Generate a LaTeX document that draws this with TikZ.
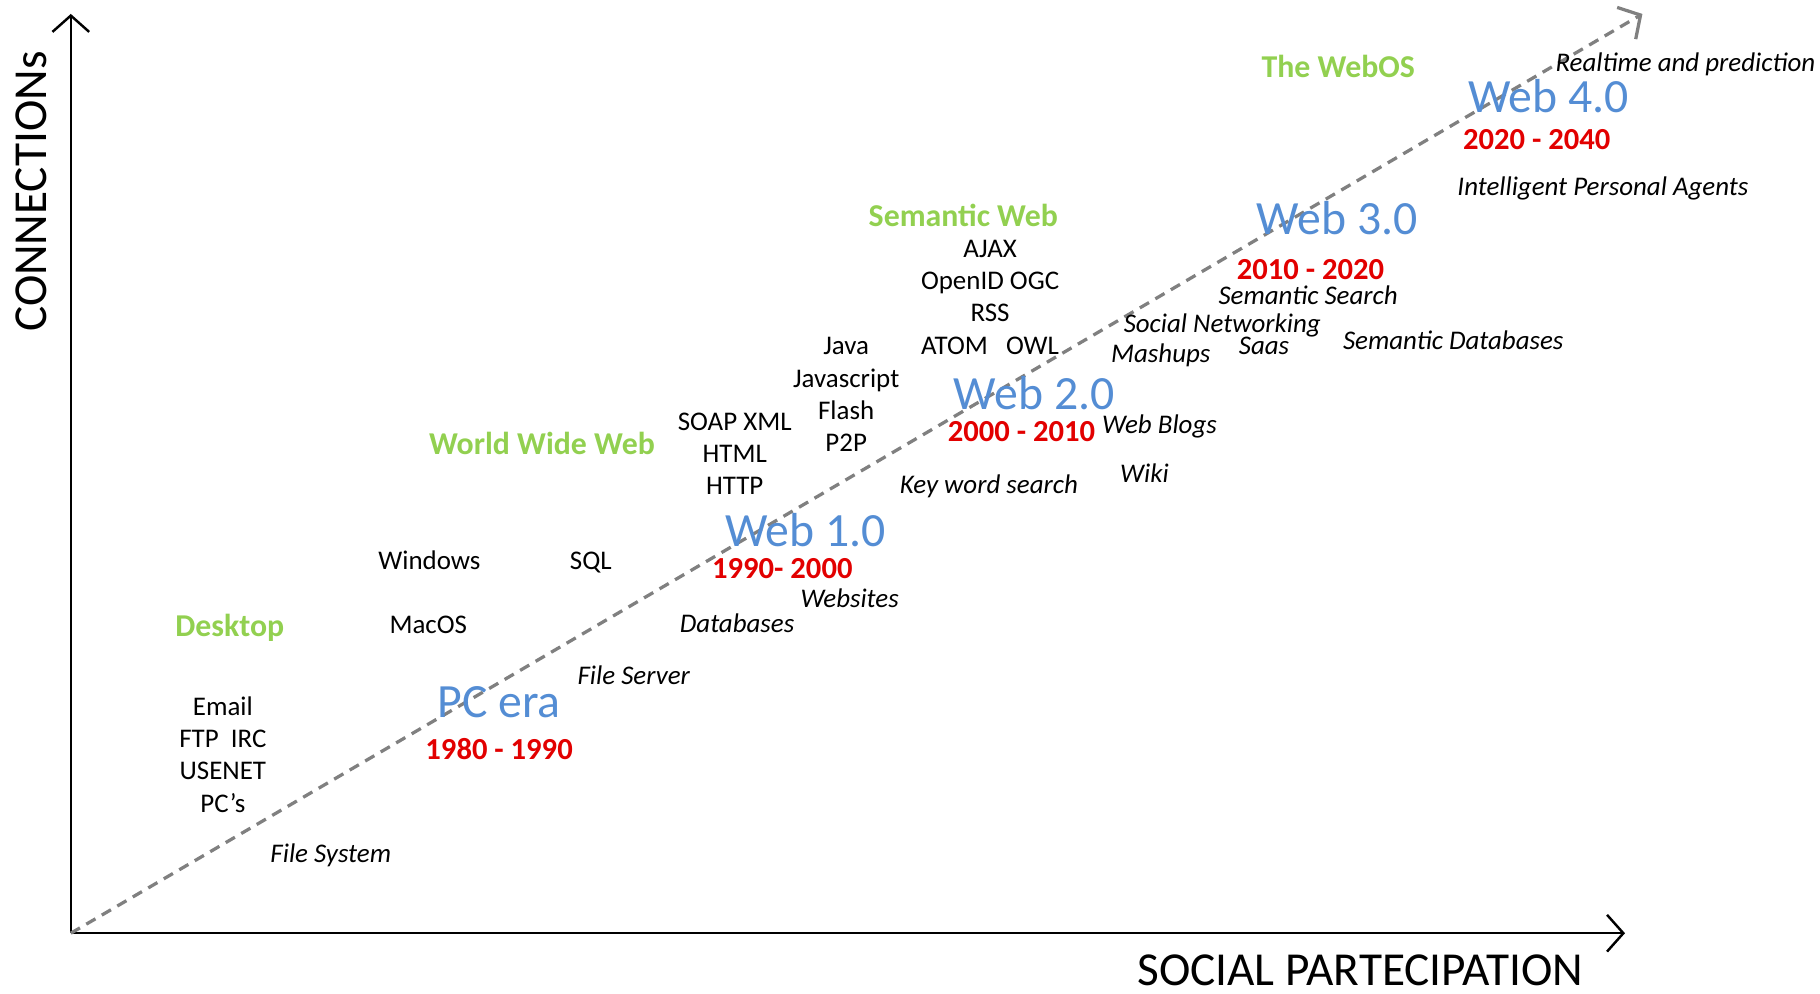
\documentclass[tikz,border=0pt]{standalone}
\usepackage{fontspec}
\setmainfont{Carlito}
\usepackage{xcolor}
\usetikzlibrary{arrows.meta}

\definecolor{stagegreen}{RGB}{146,208,80}
\definecolor{erablue}{RGB}{84,141,212}
\definecolor{yearred}{RGB}{226,0,0}
\definecolor{trendgray}{RGB}{128,128,128}

\begin{document}
\begin{tikzpicture}[x=0.1mm,y=-0.1mm,
        every node/.style={inner sep=0pt},
        axis/.style={line width=0.6pt, -{Straight Barb[length=4pt,width=9pt]}},
        trend/.style={trendgray, line width=0.8pt, dash pattern=on 2.6pt off 1.8pt,
            -{Straight Barb[length=4pt,width=9pt]}},
        axislabel/.style={font=\fontsize{11.6}{14}\selectfont},
        stage/.style={text=stagegreen, font=\fontsize{7.8}{9}\selectfont\bfseries},
        era/.style={text=erablue, font=\fontsize{11.7}{14}\selectfont},
        years/.style={text=yearred, font=\fontsize{7.5}{9}\selectfont\bfseries},
        tech/.style={align=center, font=\fontsize{6.6}{7.9}\selectfont},
        usage/.style={font=\fontsize{6.6}{7.9}\selectfont\itshape}]
        \useasboundingbox (0,0) rectangle (1568,856);

        \coordinate (O) at (61,804);
        \coordinate (Ytop) at (61,12);
        \coordinate (Xend) at (1400,804);
        \coordinate (Tend) at (1415,12);

        % axes and the trend line
        \draw[axis] (O) -- (Ytop);
        \draw[axis] (O) -- (Xend);
        \draw[trend] (O) -- (Tend);

        \node[axislabel, rotate=90] (connections) at (27,165) {CONNECTIONs};
        \node[axislabel] (social) at (1172,836) {SOCIAL PARTECIPATION};

        % stages
        \node[stage] (desktop) at (198,541) {Desktop};
        \node[stage] (www) at (467,382) {World Wide Web};
        \node[stage] (semweb) at (830,186) {Semantic Web};
        \node[stage] (webos) at (1153,57) {The WebOS};

        % eras and years
        \node[era] (pcera) at (430,605) {PC era};
        \node[years] (pcyears) at (430,645) {1980 - 1990};
        \node[era] (web1) at (694,457) {Web 1.0};
        \node[years] (web1years) at (674,490) {1990- 2000};
        \node[era] (web2) at (891,339) {Web 2.0};
        \node[years] (web2years) at (880,372) {2000 - 2010};
        \node[era] (web3) at (1152,188) {Web 3.0};
        \node[years] (web3years) at (1129,232) {2010 - 2020};
        \node[era] (web4) at (1334,83) {Web 4.0};
        \node[years] (web4years) at (1324,120) {2020 - 2040};

        % technologies
        \node[tech] (net) at (192,650) {Email\\FTP~~IRC\\USENET\\PC’s};
        \node[tech] (windows) at (370,483) {Windows};
        \node[tech] (macos) at (369,538) {MacOS};
        \node[tech] (sql) at (509,485) {SQL};
        \node[tech] (protocols) at (633,391) {SOAP XML\\HTML\\HTTP};
        \node[tech] (java) at (729,340) {Java\\Javascript\\Flash\\P2P};
        \node[tech] (ajax) at (853,256) {AJAX\\OpenID OGC\\RSS\\ATOM~~~OWL};

        % uses
        \node[usage] (filesystem) at (285,737) {File System};
        \node[usage] (fileserver) at (546,582) {File Server};
        \node[usage] (databases) at (635,537) {Databases};
        \node[usage] (websites) at (732,515) {Websites};
        \node[usage] (keyword) at (852,419) {Key word search};
        \node[usage] (wiki) at (986,408) {Wiki};
        \node[usage] (blogs) at (999,367) {Web Blogs};
        \node[usage] (socialnet) at (1053,280) {Social Networking};
        \node[usage] (mashups) at (1000,306) {Mashups};
        \node[usage] (saas) at (1089,298) {Saas};
        \node[usage] (semsearch) at (1127,254) {Semantic Search};
        \node[usage] (semdb) at (1252,293) {Semantic Databases};
        \node[usage] (agents) at (1381,162) {Intelligent Personal Agents};
        \node[usage] (realtime) at (1452,55) {Realtime and prediction};
\end{tikzpicture}
\end{document}
